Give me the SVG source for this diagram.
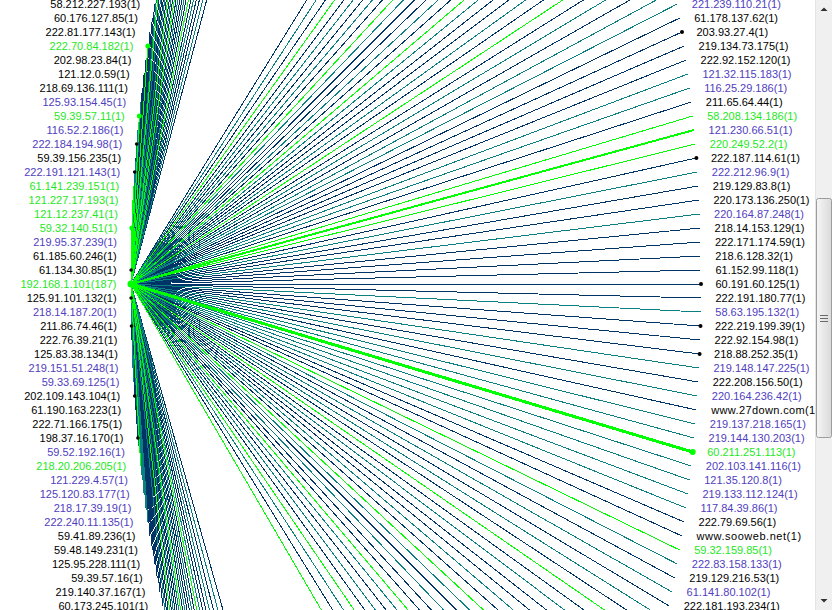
<svg xmlns="http://www.w3.org/2000/svg" width="832" height="610" viewBox="0 0 832 610">
<defs>
<style>
line{stroke-width:1;shape-rendering:crispEdges;fill:none}
.n{stroke:#003366}
.t{stroke:#0b8080}
.g{stroke:#00ff00}
.w{stroke:#00ff00;stroke-width:2}
.w3{stroke:#00ff00;stroke-width:3}
text{font-family:"Liberation Sans",Arial,sans-serif;font-size:11px}
.l{text-anchor:end}
.k{fill:#000}
.p{fill:#5040c0}
.e{fill:#1ee81e}
.dk{fill:#000}
.dg{fill:#00ff00}
</style>
<linearGradient id="thumb" x1="0" y1="0" x2="1" y2="0">
<stop offset="0" stop-color="#f6f6f6"/>
<stop offset="1" stop-color="#dadada"/>
</linearGradient>
</defs>
<rect width="832" height="610" fill="#fff"/>
<g id="connectors" transform="translate(131 284)">
<line class="n" x2="171.6" y2="-644"/><line class="n" x2="148.3" y2="-616"/><line class="n" x2="138.4" y2="-602"/><line class="n" x2="120.9" y2="-574"/><line class="n" x2="105.9" y2="-546"/><line class="n" x2="92.7" y2="-518"/><line class="n" x2="86.6" y2="-504"/><line class="n" x2="75.5" y2="-476"/><line class="n" x2="65.6" y2="-448"/><line class="n" x2="56.6" y2="-420"/><line class="n" x2="48.6" y2="-392"/><line class="n" x2="41.3" y2="-364"/><line class="n" x2="37.9" y2="-350"/><line class="n" x2="31.8" y2="-322"/><line class="n" x2="23.7" y2="-280"/><line class="n" x2="21.3" y2="-266"/><line class="n" x2="19" y2="-252"/><line class="n" x2="14.9" y2="-224"/><line class="n" x2="13.1" y2="-210"/><line class="n" x2="11.3" y2="-196"/><line class="n" x2="4.6" y2="-126"/><line class="n" x2="0.2" y2="-28"/><line class="n" x2="0.1" y2="-14"/><line class="n" x2="0.1" y2="14"/><line class="n" x2="0.5" y2="42"/><line class="n" x2="0.9" y2="56"/><line class="n" x2="1.4" y2="70"/><line class="n" x2="3.7" y2="112"/><line class="n" x2="4.6" y2="126"/><line class="n" x2="5.7" y2="140"/><line class="n" x2="6.9" y2="154"/><line class="n" x2="19" y2="252"/><line class="n" x2="21.3" y2="266"/><line class="n" x2="23.7" y2="280"/><line class="n" x2="26.2" y2="294"/><line class="n" x2="28.9" y2="308"/><line class="n" x2="31.8" y2="322"/><line class="n" x2="37.9" y2="350"/><line class="n" x2="41.3" y2="364"/><line class="n" x2="48.6" y2="392"/><line class="n" x2="56.6" y2="420"/><line class="n" x2="61" y2="434"/><line class="n" x2="75.5" y2="476"/><line class="n" x2="86.6" y2="504"/><line class="n" x2="92.7" y2="518"/><line class="n" x2="105.9" y2="546"/><line class="n" x2="129.3" y2="588"/><line class="n" x2="138.4" y2="602"/><line class="n" x2="159.3" y2="630"/><line class="n" x2="185.7" y2="658"/>
<line class="n" x2="398.4" y2="-644"/><line class="n" x2="421.7" y2="-616"/><line class="n" x2="440.7" y2="-588"/><line class="n" x2="456.9" y2="-560"/><line class="n" x2="470.9" y2="-532"/><line class="n" x2="489.1" y2="-490"/><line class="n" x2="494.5" y2="-476"/><line class="n" x2="504.4" y2="-448"/><line class="n" x2="517.5" y2="-406"/><line class="n" x2="521.4" y2="-392"/><line class="n" x2="528.7" y2="-364"/><line class="n" x2="535.2" y2="-336"/><line class="n" x2="541.1" y2="-308"/><line class="n" x2="548.7" y2="-266"/><line class="n" x2="551" y2="-252"/><line class="n" x2="553.1" y2="-238"/><line class="n" x2="555.1" y2="-224"/><line class="n" x2="560.3" y2="-182"/><line class="n" x2="565.4" y2="-126"/><line class="n" x2="567.2" y2="-98"/><line class="n" x2="568" y2="-84"/><line class="n" x2="569.1" y2="-56"/><line class="n" x2="569.5" y2="-42"/><line class="n" x2="569.8" y2="-28"/><line class="n" x2="569.9" y2="-14"/><line class="n" x2="570" y2="0"/><line class="n" x2="569.9" y2="14"/><line class="n" x2="569.5" y2="42"/><line class="n" x2="569.1" y2="56"/><line class="n" x2="568.6" y2="70"/><line class="n" x2="567.2" y2="98"/><line class="n" x2="565.4" y2="126"/><line class="n" x2="553.1" y2="238"/><line class="n" x2="551" y2="252"/><line class="n" x2="543.8" y2="294"/><line class="n" x2="538.2" y2="322"/><line class="n" x2="532.1" y2="350"/><line class="n" x2="525.2" y2="378"/><line class="n" x2="517.5" y2="406"/><line class="n" x2="513.4" y2="420"/><line class="n" x2="504.4" y2="448"/><line class="n" x2="489.1" y2="490"/><line class="n" x2="477.3" y2="518"/><line class="n" x2="470.9" y2="532"/><line class="n" x2="449.1" y2="574"/><line class="n" x2="431.6" y2="602"/><line class="n" x2="398.4" y2="644"/>
<line class="t" x2="159.3" y2="-630"/><line class="t" x2="129.3" y2="-588"/><line class="t" x2="99.1" y2="-532"/><line class="t" x2="80.9" y2="-490"/><line class="t" x2="61" y2="-434"/><line class="t" x2="44.8" y2="-378"/><line class="t" x2="34.8" y2="-336"/><line class="t" x2="26.2" y2="-294"/><line class="t" x2="9.7" y2="-182"/><line class="t" x2="6.9" y2="-154"/><line class="t" x2="5.7" y2="-140"/><line class="t" x2="3.7" y2="-112"/><line class="t" x2="0.5" y2="-42"/><line class="t" x2="0.2" y2="28"/><line class="t" x2="2" y2="84"/><line class="t" x2="2.8" y2="98"/><line class="t" x2="8.3" y2="168"/><line class="t" x2="11.3" y2="196"/><line class="t" x2="13.1" y2="210"/><line class="t" x2="14.9" y2="224"/><line class="t" x2="16.9" y2="238"/><line class="t" x2="34.8" y2="336"/><line class="t" x2="52.5" y2="406"/><line class="t" x2="65.6" y2="448"/><line class="t" x2="80.9" y2="490"/><line class="t" x2="99.1" y2="532"/><line class="t" x2="120.9" y2="574"/><line class="t" x2="148.3" y2="616"/><line class="t" x2="171.6" y2="644"/>
<line class="t" x2="410.7" y2="-630"/><line class="t" x2="449.1" y2="-574"/><line class="t" x2="464.1" y2="-546"/><line class="t" x2="483.4" y2="-504"/><line class="t" x2="499.6" y2="-462"/><line class="t" x2="513.4" y2="-420"/><line class="t" x2="525.2" y2="-378"/><line class="t" x2="538.2" y2="-322"/><line class="t" x2="543.8" y2="-294"/><line class="t" x2="546.3" y2="-280"/><line class="t" x2="556.9" y2="-210"/><line class="t" x2="558.7" y2="-196"/><line class="t" x2="566.3" y2="-112"/><line class="t" x2="568.6" y2="-70"/><line class="t" x2="569.8" y2="28"/><line class="t" x2="568" y2="84"/><line class="t" x2="566.3" y2="112"/><line class="t" x2="564.3" y2="140"/><line class="t" x2="563.1" y2="154"/><line class="t" x2="560.3" y2="182"/><line class="t" x2="558.7" y2="196"/><line class="t" x2="556.9" y2="210"/><line class="t" x2="555.1" y2="224"/><line class="t" x2="546.3" y2="280"/><line class="t" x2="541.1" y2="308"/><line class="t" x2="535.2" y2="336"/><line class="t" x2="521.4" y2="392"/><line class="t" x2="509" y2="434"/><line class="t" x2="494.5" y2="476"/><line class="t" x2="483.4" y2="504"/><line class="t" x2="456.9" y2="560"/><line class="t" x2="440.7" y2="588"/><line class="t" x2="410.7" y2="630"/>
<line class="g" x2="113.1" y2="-560"/><line class="g" x2="70.4" y2="-462"/><line class="g" x2="52.5" y2="-406"/><line class="g" x2="28.9" y2="-308"/><line class="g" x2="16.9" y2="-238"/><line class="g" x2="8.3" y2="-168"/><line class="g" x2="2.8" y2="-98"/><line class="g" x2="2" y2="-84"/><line class="g" x2="1.4" y2="-70"/><line class="g" x2="0.9" y2="-56"/><line class="g" x2="9.7" y2="182"/><line class="g" x2="44.8" y2="378"/><line class="g" x2="70.4" y2="462"/><line class="g" x2="113.1" y2="560"/>
<line class="g" x2="431.6" y2="-602"/><line class="g" x2="477.3" y2="-518"/><line class="g" x2="509" y2="-434"/><line class="g" x2="532.1" y2="-350"/><line class="g" x2="561.7" y2="-168"/><line class="g" x2="564.3" y2="-140"/><line class="g" x2="548.7" y2="266"/><line class="g" x2="528.7" y2="364"/><line class="g" x2="499.6" y2="462"/><line class="g" x2="464.1" y2="546"/><line class="g" x2="421.7" y2="616"/><line class="g" x2="384.3" y2="658"/>
<line class="w" x2="563.1" y2="-154"/><line class="w3" x2="561.7" y2="168"/>
</g>
<g id="n-l-20"><text class="l k" x="140.2" y="8">58.212.227.193(1)</text></g>
<g id="n-l-19"><text class="l k" x="137.8" y="22">60.176.127.85(1)</text></g>
<g id="n-l-18"><text class="l k" x="135.5" y="36">222.81.177.143(1)</text></g>
<g id="n-l-17"><circle class="dg" cx="147.9" cy="46" r="2.5"/><text class="l e" x="133.4" y="50">222.70.84.182(1)</text></g>
<g id="n-l-16"><text class="l k" x="131.4" y="64">202.98.23.84(1)</text></g>
<g id="n-l-15"><text class="l k" x="129.6" y="78">121.12.0.59(1)</text></g>
<g id="n-l-14"><text class="l k" x="127.8" y="92">218.69.136.111(1)</text></g>
<g id="n-l-13"><text class="l p" x="126.2" y="106">125.93.154.45(1)</text></g>
<g id="n-l-12"><circle class="dg" cx="139.3" cy="116" r="2.5"/><text class="l e" x="124.8" y="120">59.39.57.11(1)</text></g>
<g id="n-l-11"><text class="l p" x="123.4" y="134">116.52.2.186(1)</text></g>
<g id="n-l-10"><circle class="dk" cx="136.7" cy="144" r="1.8"/><text class="l p" x="122.2" y="148">222.184.194.98(1)</text></g>
<g id="n-l-9"><text class="l k" x="121.1" y="162">59.39.156.235(1)</text></g>
<g id="n-l-8"><circle class="dk" cx="134.7" cy="172" r="1.8"/><text class="l p" x="120.2" y="176">222.191.121.143(1)</text></g>
<g id="n-l-7"><text class="l e" x="119.3" y="190">61.141.239.151(1)</text></g>
<g id="n-l-6"><text class="l e" x="118.5" y="204">121.227.17.193(1)</text></g>
<g id="n-l-5"><text class="l e" x="117.9" y="218">121.12.237.41(1)</text></g>
<g id="n-l-4"><circle class="dg" cx="131.9" cy="228" r="2.5"/><text class="l e" x="117.4" y="232">59.32.140.51(1)</text></g>
<g id="n-l-3"><text class="l p" x="117" y="246">219.95.37.239(1)</text></g>
<g id="n-l-2"><text class="l k" x="116.7" y="260">61.185.60.246(1)</text></g>
<g id="n-l-1"><circle class="dk" cx="131.1" cy="270" r="1.8"/><text class="l k" x="116.6" y="274">61.134.30.85(1)</text></g>
<g id="n-center"><circle class="dg" cx="131" cy="284" r="3.5"/><text class="l e" x="116.5" y="288">192.168.1.101(187)</text></g>
<g id="n-l1"><circle class="dk" cx="131.1" cy="298" r="1.8"/><text class="l k" x="116.6" y="302">125.91.101.132(1)</text></g>
<g id="n-l2"><text class="l p" x="116.7" y="316">218.14.187.20(1)</text></g>
<g id="n-l3"><circle class="dk" cx="131.5" cy="326" r="1.8"/><text class="l k" x="117" y="330">211.86.74.46(1)</text></g>
<g id="n-l4"><text class="l k" x="117.4" y="344">222.76.39.21(1)</text></g>
<g id="n-l5"><text class="l k" x="117.9" y="358">125.83.38.134(1)</text></g>
<g id="n-l6"><text class="l p" x="118.5" y="372">219.151.51.248(1)</text></g>
<g id="n-l7"><text class="l p" x="119.3" y="386">59.33.69.125(1)</text></g>
<g id="n-l8"><circle class="dk" cx="134.7" cy="396" r="1.8"/><text class="l k" x="120.2" y="400">202.109.143.104(1)</text></g>
<g id="n-l9"><text class="l k" x="121.1" y="414">61.190.163.223(1)</text></g>
<g id="n-l10"><text class="l k" x="122.2" y="428">222.71.166.175(1)</text></g>
<g id="n-l11"><circle class="dk" cx="137.9" cy="438" r="1.8"/><text class="l k" x="123.4" y="442">198.37.16.170(1)</text></g>
<g id="n-l12"><text class="l p" x="124.8" y="456">59.52.192.16(1)</text></g>
<g id="n-l13"><text class="l e" x="126.2" y="470">218.20.206.205(1)</text></g>
<g id="n-l14"><text class="l p" x="127.8" y="484">121.229.4.57(1)</text></g>
<g id="n-l15"><text class="l p" x="129.6" y="498">125.120.83.177(1)</text></g>
<g id="n-l16"><text class="l p" x="131.4" y="512">218.17.39.19(1)</text></g>
<g id="n-l17"><text class="l p" x="133.4" y="526">222.240.11.135(1)</text></g>
<g id="n-l18"><text class="l k" x="135.5" y="540">59.41.89.236(1)</text></g>
<g id="n-l19"><text class="l k" x="137.8" y="554">59.48.149.231(1)</text></g>
<g id="n-l20"><text class="l k" x="140.2" y="568">125.95.228.111(1)</text></g>
<g id="n-l21"><text class="l k" x="142.7" y="582">59.39.57.16(1)</text></g>
<g id="n-l22"><text class="l k" x="145.4" y="596">219.140.37.167(1)</text></g>
<g id="n-l23"><text class="l k" x="148.3" y="610">60.173.245.101(1)</text></g>
<g id="n-r-20"><text class="p" x="691.8" y="8">221.239.110.21(1)</text></g>
<g id="n-r-19"><text class="k" x="694.2" y="22">61.178.137.62(1)</text></g>
<g id="n-r-18"><circle class="dk" cx="682" cy="32" r="2"/><text class="k" x="696.5" y="36">203.93.27.4(1)</text></g>
<g id="n-r-17"><text class="k" x="698.6" y="50">219.134.73.175(1)</text></g>
<g id="n-r-16"><text class="k" x="700.6" y="64">222.92.152.120(1)</text></g>
<g id="n-r-15"><text class="p" x="702.4" y="78">121.32.115.183(1)</text></g>
<g id="n-r-14"><text class="p" x="704.2" y="92">116.25.29.186(1)</text></g>
<g id="n-r-13"><text class="k" x="705.8" y="106">211.65.64.44(1)</text></g>
<g id="n-r-12"><text class="e" x="707.2" y="120">58.208.134.186(1)</text></g>
<g id="n-r-11"><text class="p" x="708.6" y="134">121.230.66.51(1)</text></g>
<g id="n-r-10"><text class="e" x="709.8" y="148">220.249.52.2(1)</text></g>
<g id="n-r-9"><circle class="dk" cx="696.4" cy="158" r="2"/><text class="k" x="710.9" y="162">222.187.114.61(1)</text></g>
<g id="n-r-8"><text class="p" x="711.8" y="176">222.212.96.9(1)</text></g>
<g id="n-r-7"><text class="k" x="712.7" y="190">219.129.83.8(1)</text></g>
<g id="n-r-6"><text class="k" x="713.5" y="204">220.173.136.250(1)</text></g>
<g id="n-r-5"><text class="p" x="714.1" y="218">220.164.87.248(1)</text></g>
<g id="n-r-4"><text class="k" x="714.6" y="232">218.14.153.129(1)</text></g>
<g id="n-r-3"><text class="k" x="715" y="246">222.171.174.59(1)</text></g>
<g id="n-r-2"><text class="k" x="715.3" y="260">218.6.128.32(1)</text></g>
<g id="n-r-1"><text class="k" x="715.4" y="274">61.152.99.118(1)</text></g>
<g id="n-r0"><circle class="dk" cx="701" cy="284" r="2"/><text class="k" x="715.5" y="288">60.191.60.125(1)</text></g>
<g id="n-r1"><text class="k" x="715.4" y="302">222.191.180.77(1)</text></g>
<g id="n-r2"><text class="p" x="715.3" y="316">58.63.195.132(1)</text></g>
<g id="n-r3"><circle class="dk" cx="700.5" cy="326" r="2"/><text class="k" x="715" y="330">222.219.199.39(1)</text></g>
<g id="n-r4"><text class="k" x="714.6" y="344">222.92.154.98(1)</text></g>
<g id="n-r5"><circle class="dk" cx="699.6" cy="354" r="2"/><text class="k" x="714.1" y="358">218.88.252.35(1)</text></g>
<g id="n-r6"><text class="p" x="713.5" y="372">219.148.147.225(1)</text></g>
<g id="n-r7"><text class="k" x="712.7" y="386">222.208.156.50(1)</text></g>
<g id="n-r8"><text class="p" x="711.8" y="400">220.164.236.42(1)</text></g>
<g id="n-r9"><text class="k" x="711.2" y="414" textLength="108" lengthAdjust="spacing">www.27down.com(1)</text></g>
<g id="n-r10"><text class="p" x="709.8" y="428">219.137.218.165(1)</text></g>
<g id="n-r11"><text class="p" x="708.6" y="442">219.144.130.203(1)</text></g>
<g id="n-r12"><circle class="dg" cx="692.7" cy="452" r="3"/><text class="e" x="707.2" y="456">60.211.251.113(1)</text></g>
<g id="n-r13"><text class="p" x="705.8" y="470">202.103.141.116(1)</text></g>
<g id="n-r14"><text class="p" x="704.2" y="484">121.35.120.8(1)</text></g>
<g id="n-r15"><text class="p" x="702.4" y="498">219.133.112.124(1)</text></g>
<g id="n-r16"><text class="p" x="700.6" y="512">117.84.39.86(1)</text></g>
<g id="n-r17"><text class="k" x="698.6" y="526">222.79.69.56(1)</text></g>
<g id="n-r18"><text class="k" x="696.6" y="540" textLength="104.5" lengthAdjust="spacing">www.sooweb.net(1)</text></g>
<g id="n-r19"><text class="e" x="694.2" y="554">59.32.159.85(1)</text></g>
<g id="n-r20"><text class="p" x="691.8" y="568">222.83.158.133(1)</text></g>
<g id="n-r21"><text class="k" x="689.3" y="582">219.129.216.53(1)</text></g>
<g id="n-r22"><text class="p" x="686.6" y="596">61.141.80.102(1)</text></g>
<g id="n-r23"><text class="k" x="683.7" y="610">222.181.193.234(1)</text></g>
<g id="scrollbar">
<rect x="815" y="0" width="17" height="610" fill="#f0f0f0"/>
<line x1="815.5" y1="0" x2="815.5" y2="610" stroke="#e4e4e4"/>
<path d="M820.5 11 L824 7.5 L827.5 11 Z" fill="#303030"/>
<path d="M820.5 599 L824 602.5 L827.5 599 Z" fill="#303030"/>
<rect x="816.5" y="198.5" width="15" height="239" rx="2" fill="url(#thumb)" stroke="#9c9c9c"/>
<path d="M820 315.5H828M820 318.5H828M820 321.5H828" stroke="#6a6a6a" fill="none"/>
</g>
</svg>
